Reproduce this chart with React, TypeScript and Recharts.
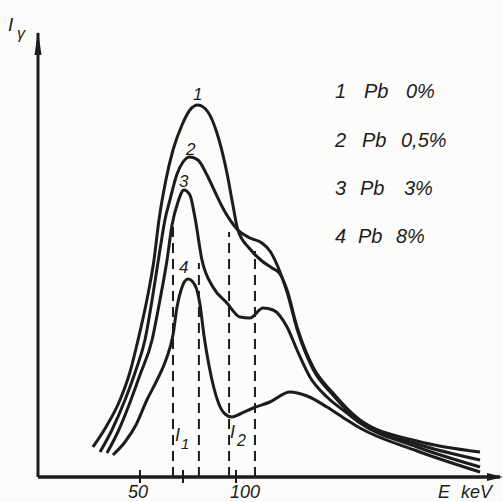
import React from "react";
import { LineChart, Line, XAxis, YAxis, ReferenceLine, Customized } from "recharts";

// curve 1 – Pb 0%
const curve1E = [25.5, 32.3, 39.6, 44.8, 49.0, 53.6, 57.3, 59.9, 63.5, 67.2, 71.9, 76.0, 80.2, 85.4, 90.1, 95.3, 98.4, 101.0, 107.3, 113.5, 118.8, 122.9, 126.6, 131.8, 140.1, 150.5, 164.6, 194.3, 227.1];
const curve1I = [30, 50, 77, 105, 137, 177, 217, 257, 297, 327, 352, 367, 372, 365, 344, 304, 272, 247, 228, 216, 209, 203, 187, 150, 110, 84, 57, 36, 25];

// curve 2 – Pb 0,5%
const curve2E = [29.2, 35.4, 42.2, 47.9, 52.6, 56.3, 60.4, 63.0, 65.6, 69.3, 72.4, 76.0, 80.2, 84.9, 89.1, 94.3, 98.4, 101.0, 107.3, 113.5, 117.7, 121.9, 126.6, 131.8, 140.1, 150.5, 164.6, 194.3, 227.1];
const curve2I = [25, 47, 77, 107, 137, 177, 227, 257, 277, 303, 315, 320, 317, 302, 285, 265, 253, 247, 239, 234, 226, 210, 185, 148, 108, 82, 55, 33, 17];

// curve 3 – Pb 3%
const curve3E = [32.8, 38.5, 44.3, 50.0, 56.3, 60.4, 64.1, 66.7, 69.8, 72.9, 76.0, 78.6, 82.3, 88.0, 95.3, 102.1, 107.3, 114.1, 119.3, 126.6, 131.8, 138.5, 147.4, 157.8, 164.6, 194.3, 227.1];
const curve3I = [24, 45, 72, 102, 137, 177, 217, 252, 275, 287, 282, 260, 217, 190, 174, 160, 159, 169, 167, 150, 127, 100, 80, 64, 54, 30, 10];

// curve 4 – Pb 8%
const curve4E = [35.9, 42.2, 47.9, 53.6, 58.9, 63.5, 67.2, 69.3, 71.4, 75.0, 78.6, 81.3, 83.3, 85.9, 88.5, 91.1, 94.3, 97.9, 102.1, 108.9, 117.7, 128.1, 137.0, 147.4, 157.8, 164.6, 194.3, 227.1];
const curve4I = [22, 35, 52, 77, 97, 117, 142, 170, 187, 198, 192, 172, 142, 112, 89, 73, 63, 60, 63, 69, 75, 85, 81, 70, 57, 49, 26, 5];

// window boundaries (dashed) for I1 and I2
const windowE = [67.2, 80.7, 96.4, 109.9];
const windowTop = [258, 214, 245, 226];

const energyTicks = [50, 72.4, 100];
const energyTickLabels = ["50", "", "100"];

const legendNums = ["1", "2", "3", "4"];
const legendPct = ["0%", "0,5%", "3%", "8%"];

const ink = "#1c1c1c";
const font = "'Liberation Sans', Arial, sans-serif";

const toPoints = (es: number[], is: number[]) => es.map((e, k) => ({ e, i: is[k] }));

const curves = [
  toPoints(curve1E, curve1I),
  toPoints(curve2E, curve2I),
  toPoints(curve3E, curve3I),
  toPoints(curve4E, curve4I),
];

function EnergyTick(props: any) {
  const { x, y, payload } = props;
  const idx = energyTicks.indexOf(payload.value);
  const label = energyTickLabels[idx] || "";
  const shift = idx === 2 ? 9 : -2;
  return (
    <g>
      <line x1={x} x2={x} y1={y - 7} y2={y + 6} stroke={ink} strokeWidth={2} />
      {label && (
        <text x={x + shift} y={y + 21} textAnchor="middle" fontSize={18} fontStyle="italic" fontFamily={font} fill={ink}>
          {label}
        </text>
      )}
    </g>
  );
}

function Decorations() {
  const pbX = [364, 362, 360, 358];
  const pctX = [406, 401, 404, 396];
  const rowY = [98, 147, 195, 243];
  return (
    <g fontFamily={font} fontStyle="italic" fill={ink}>
      <polygon points="38,31 34.5,55 41.5,55" fill={ink} />
      <polygon points="503,477 487,473 487,481" fill={ink} />
      <text x={8} y={31} fontSize={19}>I</text>
      <text x={17} y={39} fontSize={16}>γ</text>

      <text x={193} y={100} fontSize={17}>1</text>
      <text x={186} y={155} fontSize={17}>2</text>
      <text x={179} y={187} fontSize={17}>3</text>
      <text x={179} y={273} fontSize={17}>4</text>

      <text x={175} y={441} fontSize={18}>I</text>
      <text x={181} y={449} fontSize={15}>1</text>
      <text x={230} y={438} fontSize={18}>I</text>
      <text x={237} y={446} fontSize={16}>2</text>

      <text x={438} y={498} fontSize={18}>E</text>
      <text x={461} y={498} fontSize={18}>keV</text>

      {legendNums.map((n, k) => (
        <g key={n} fontSize={20}>
          <text x={335} y={rowY[k]}>{n}</text>
          <text x={pbX[k]} y={rowY[k]}>Pb</text>
          <text x={pctX[k]} y={rowY[k]}>{legendPct[k]}</text>
        </g>
      ))}
    </g>
  );
}

export default function App() {
  return (
    <div style={{ position: "fixed", left: 0, top: 0, width: 503, height: 502, background: "#fcfcfa" }}>
      <LineChart width={503} height={502} margin={{ top: 33, right: 3, bottom: 0, left: 0 }}>
        <XAxis
          type="number"
          dataKey="e"
          domain={[-3.1, 237.5]}
          ticks={energyTicks}
          tick={<EnergyTick />}
          tickLine={false}
          tickSize={0}
          tickMargin={0}
          height={25}
          axisLine={{ stroke: ink, strokeWidth: 3.5 }}
          allowDataOverflow
          interval={0}
        />
        <YAxis
          type="number"
          dataKey="i"
          domain={[0, 444]}
          width={38}
          tick={false}
          tickLine={false}
          axisLine={{ stroke: ink, strokeWidth: 3 }}
          allowDataOverflow
        />
        {windowE.map((e, k) => (
          <ReferenceLine
            key={e}
            segment={[{ x: e, y: 0 }, { x: e, y: windowTop[k] }]}
            stroke={ink}
            strokeWidth={2}
            strokeDasharray="10 6"
          />
        ))}
        {curves.map((pts, k) => (
          <Line
            key={k}
            data={pts}
            dataKey="i"
            type="monotone"
            stroke={ink}
            strokeWidth={3}
            dot={false}
            activeDot={false}
            isAnimationActive={false}
          />
        ))}
        <Customized component={Decorations} />
      </LineChart>
    </div>
  );
}
